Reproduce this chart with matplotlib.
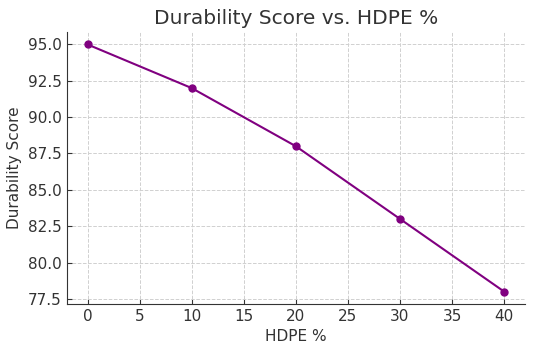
import matplotlib.pyplot as plt

hdpe = [0, 10, 20, 30, 40]
durability = [95, 92, 88, 83, 78]

fig, ax = plt.subplots(figsize=(5.34, 3.53), dpi=100)
fig.subplots_adjust(left=0.125, right=0.983, top=0.909, bottom=0.139)

ax.plot(hdpe, durability, color='purple', marker='o', markersize=5, linewidth=1.5)

ax.set_title('Durability Score vs. HDPE %', fontsize=14.5, color='#333333')
ax.set_xlabel('HDPE %', fontsize=11, color='#333333')
ax.set_ylabel('Durability Score', fontsize=11, color='#333333')
ax.grid(True, linestyle='--', color='#d0d0d0', linewidth=0.7)
ax.tick_params(direction='in', labelsize=11, colors='#333333')
ax.spines['top'].set_visible(False)
ax.spines['right'].set_visible(False)
for s in ('left', 'bottom'):
    ax.spines[s].set_color('#333333')

fig.savefig('out.png')
